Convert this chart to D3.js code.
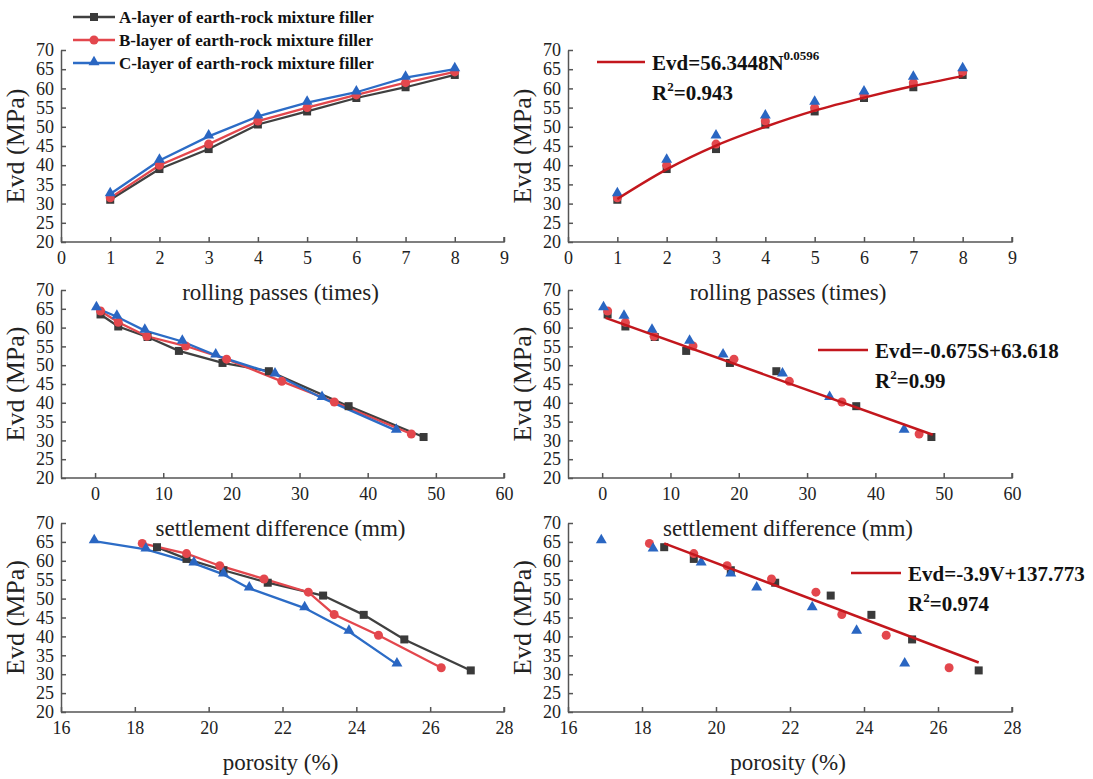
<!DOCTYPE html>
<html>
<head>
<meta charset="utf-8">
<script src="https://cdn.jsdelivr.net/npm/d3@7"></script>
<style>
  body { margin: 0; background: #fff; }
  svg { display: block; font-family: "Liberation Serif", "Times New Roman", serif; }
</style>
</head>
<body>
<div id="chart"></div>
<script>
// values
const passes = [1, 2, 3, 4, 5, 6, 7, 8]
const evdPassA = [31.0, 39.0, 44.2, 50.6, 54.0, 57.5, 60.3, 63.5]
const evdPassB = [31.5, 40.0, 45.5, 51.5, 55.0, 58.3, 61.5, 64.3]
const evdPassC = [32.5, 41.2, 47.5, 52.7, 56.3, 59.0, 62.8, 65.0]

const settleA = [0.8, 3.4, 7.7, 12.3, 18.7, 25.5, 37.2, 48.2]
const evdSettleA = [63.5, 60.3, 57.5, 53.8, 50.6, 48.4, 39.1, 30.9]
const settleB = [0.8, 3.4, 7.6, 13.3, 19.3, 27.4, 35.1, 46.4]
const evdSettleB = [64.4, 61.4, 57.7, 55.1, 51.6, 45.7, 40.2, 31.7]
const settleC = [0.2, 3.2, 7.3, 12.8, 17.7, 26.4, 33.3, 44.2]
const evdSettleC = [65.2, 62.9, 59.2, 56.3, 52.6, 47.6, 41.3, 32.6]

const porosA = [18.6, 19.4, 20.4, 21.6, 23.1, 24.2, 25.3, 27.1]
const evdPorosA = [63.6, 60.5, 57.5, 54.2, 50.8, 45.7, 39.2, 31.0]
const porosB = [18.2, 19.4, 20.3, 21.5, 22.7, 23.4, 24.6, 26.3]
const evdPorosB = [64.6, 61.9, 58.7, 55.2, 51.7, 45.8, 40.3, 31.7]
const porosC = [16.9, 18.3, 19.6, 20.4, 21.1, 22.6, 23.8, 25.1]
const evdPorosC = [65.2, 63.0, 59.3, 56.4, 52.7, 47.5, 41.3, 32.6]

// fitted curves as drawn in the right-hand panels
const fitPassX = [1, 2, 3, 4, 5, 6, 7, 8]
const fitPassY = [31.2, 38.9, 45.1, 50.0, 54.2, 57.6, 60.6, 63.2]
const fitSettleX = [0.5, 48.4]
const fitSettleY = [62.6, 31.5]
const fitPorosX = [18.6, 27.1]
const fitPorosY = [64.6, 33.1]

const seriesNames = [
  'A-layer of earth-rock mixture filler',
  'B-layer of earth-rock mixture filler',
  'C-layer of earth-rock mixture filler',
]
const seriesColors = ['#404040', '#e3474d', '#2c6cc6']
const markerColors = ['#3a3a3a', '#e3474d', '#2a66c2']
const fitColor = '#c3171d'
const yTicks = [20, 25, 30, 35, 40, 45, 50, 55, 60, 65, 70]

const W = 1093
const H = 779
const svg = d3.select('#chart').append('svg').attr('width', W).attr('height', H)

const cols = [[61, 504], [568, 1012]]
const rows = [[50, 242], [290, 478], [523, 712]]

const zip = (xs, ys) => xs.map((x, i) => [x, ys[i]])

const panels = [
  {
    xDomain: [0, 9], xTicks: d3.range(0, 10), title: 'rolling passes (times)',
    data: [zip(passes, evdPassA), zip(passes, evdPassB), zip(passes, evdPassC)],
    fit: zip(fitPassX, fitPassY),
  },
  {
    xDomain: [-5, 60], xTicks: [0, 10, 20, 30, 40, 50, 60], title: 'settlement difference (mm)',
    data: [zip(settleA, evdSettleA), zip(settleB, evdSettleB), zip(settleC, evdSettleC)],
    fit: zip(fitSettleX, fitSettleY),
  },
  {
    xDomain: [16, 28], xTicks: [16, 18, 20, 22, 24, 26, 28], title: 'porosity (%)',
    data: [zip(porosA, evdPorosA), zip(porosB, evdPorosB), zip(porosC, evdPorosC)],
    fit: zip(fitPorosX, fitPorosY),
  },
]

const fitLabels = [
  {eq: ['Evd=56.3448N', '0.0596'], r2: '0.943', lx: [597, 645], ly: 62},
  {eq: ['Evd=-0.675S+63.618', ''], r2: '0.99', lx: [818, 868], ly: 350},
  {eq: ['Evd=-3.9V+137.773', ''], r2: '0.974', lx: [851, 901], ly: 573},
]

function drawMarker(g, kind, x, y, color) {
  if (kind === 0) {
    g.append('rect').attr('x', x - 4).attr('y', y - 4).attr('width', 8).attr('height', 8)
        .attr('fill', color)
  } else if (kind === 1) {
    g.append('circle').attr('cx', x).attr('cy', y).attr('r', 4.5).attr('fill', color)
  } else {
    g.append('path')
        .attr('d', d3.symbol().type(d3.symbolTriangle).size(52)())
        .attr('transform', `translate(${x},${y - 1})`)
        .attr('fill', color)
  }
}

function drawPanel(p, col, row, isFit, idx) {
  const [x0, x1] = cols[col]
  const [y0, y1] = rows[row]
  const x = d3.scaleLinear().domain(p.xDomain).range([x0, x1])
  const y = d3.scaleLinear().domain([20, 70]).range([y1, y0])
  const g = svg.append('g')

  // axes, ticks pointing inward
  const xAxis = d3.axisBottom(x).tickValues(p.xTicks).tickSizeInner(-5).tickSizeOuter(0)
      .tickPadding(8)
  const gx = g.append('g').attr('transform', `translate(0,${y1})`).call(xAxis)
  gx.select('.domain').attr('d', `M${x0},0H${x1}V-5`)
  const yAxis = d3.axisLeft(y).tickValues(yTicks).tickSizeInner(-5).tickSizeOuter(0)
      .tickPadding(7)
  g.append('g').attr('transform', `translate(${x0},0)`).call(yAxis)

  g.selectAll('.domain, .tick line').attr('stroke', '#555').attr('stroke-width', 1.5)
  g.selectAll('.tick text').attr('font-size', 18).attr('fill', '#222')
      .attr('font-family', '"Liberation Serif", serif')
  gx.selectAll('.tick text').attr('dy', '0.75em')

  // titles
  g.append('text')
      .attr('transform', `translate(${x0 - 37},${(y0 + y1) / 2}) rotate(-90)`)
      .attr('text-anchor', 'middle')
      .attr('font-size', 26).attr('fill', '#222')
      .text('Evd (MPa)')
  g.append('text')
      .attr('x', (x0 + x1) / 2 - 2)
      .attr('y', y1 + 58)
      .attr('text-anchor', 'middle')
      .attr('font-size', 23).attr('fill', '#222')
      .text(p.title)

  const line = d3.line().x((d) => x(d[0])).y((d) => y(d[1]))

  if (!isFit) {
    p.data.forEach((pts, k) => {
      g.append('path').datum(pts).attr('d', line)
          .attr('fill', 'none').attr('stroke', seriesColors[k]).attr('stroke-width', 2.3)
    })
    p.data.forEach((pts, k) => {
      pts.forEach((d) => drawMarker(g, k, x(d[0]), y(d[1]), markerColors[k]))
    })
  } else {
    p.data.forEach((pts, k) => {
      pts.forEach((d) => drawMarker(g, k, x(d[0]), y(d[1]), markerColors[k]))
    })
    const fitLine = d3.line().x((d) => x(d[0])).y((d) => y(d[1]))
        .curve(p.fit.length > 2 ? d3.curveMonotoneX : d3.curveLinear)
    g.append('path').datum(p.fit).attr('d', fitLine)
        .attr('fill', 'none').attr('stroke', fitColor).attr('stroke-width', 2.5)

    const lab = fitLabels[idx]
    g.append('line').attr('x1', lab.lx[0]).attr('x2', lab.lx[1])
        .attr('y1', lab.ly).attr('y2', lab.ly)
        .attr('stroke', fitColor).attr('stroke-width', 2.5)
    const t = g.append('text').attr('x', lab.lx[1] + 7).attr('y', lab.ly + 8)
        .attr('font-size', 21).attr('font-weight', 'bold').attr('fill', '#111')
    t.append('tspan').text(lab.eq[0])
    if (lab.eq[1]) {
      t.append('tspan').attr('dy', -10).attr('font-size', 13).text(lab.eq[1])
    }
    const r = g.append('text').attr('x', lab.lx[1] + 7).attr('y', lab.ly + 38)
        .attr('font-size', 21).attr('font-weight', 'bold').attr('fill', '#111')
    r.append('tspan').text('R')
    r.append('tspan').attr('dy', -9).attr('font-size', 13).text('2')
    r.append('tspan').attr('dy', 9).text('=' + lab.r2)
  }
}

panels.forEach((p, i) => {
  drawPanel(p, 0, i, false, i)
  drawPanel(p, 1, i, true, i)
})

// legend for the line panels
const legend = svg.append('g')
seriesNames.forEach((name, k) => {
  const ly = 17 + k * 23
  legend.append('line').attr('x1', 73).attr('x2', 115).attr('y1', ly).attr('y2', ly)
      .attr('stroke', seriesColors[k]).attr('stroke-width', 2.3)
  drawMarker(legend, k, 94, ly, markerColors[k])
  legend.append('text').attr('x', 119).attr('y', ly + 6)
      .attr('font-size', 17).attr('font-weight', 'bold').attr('fill', '#111')
      .text(name)
})
</script>
</body>
</html>
